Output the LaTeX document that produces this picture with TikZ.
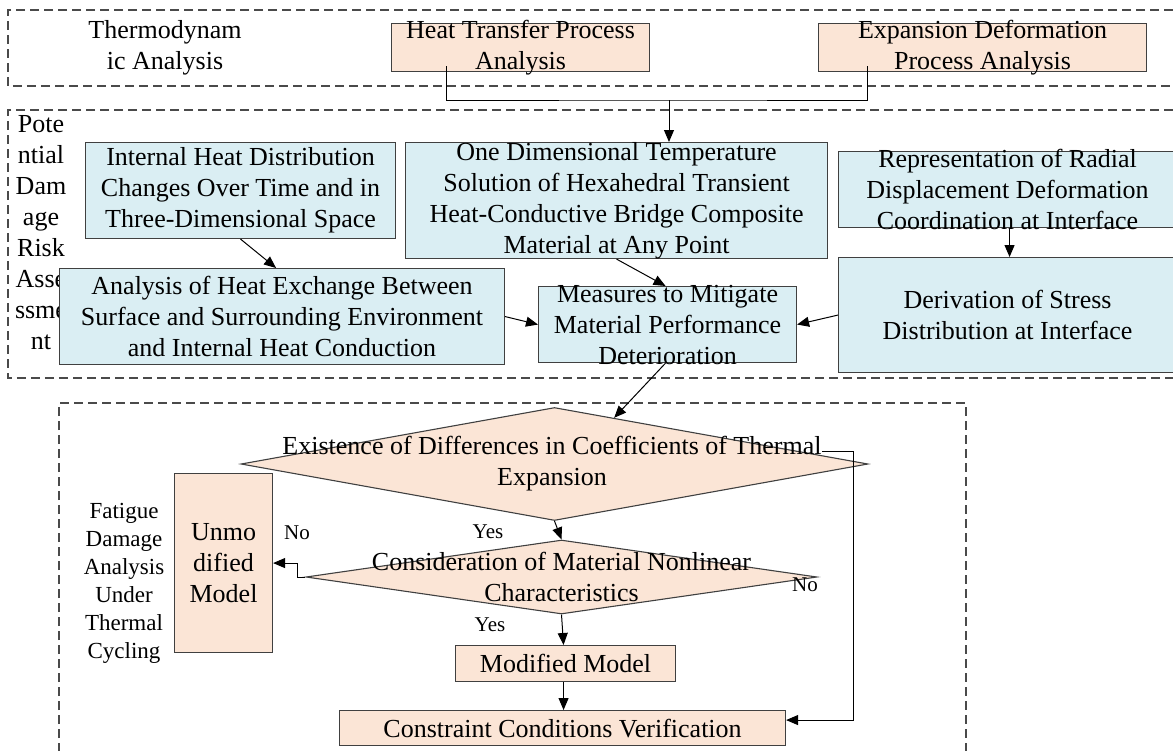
\documentclass[tikz,border=0pt]{standalone}
\usepackage{fontspec}
\setmainfont{Liberation Serif}
\usetikzlibrary{arrows.meta,shapes.geometric,calc}
\definecolor{peach}{HTML}{FBE5D6}
\definecolor{paleblue}{HTML}{DAEEF3}
\definecolor{edgegray}{HTML}{404040}
\definecolor{dashgray}{HTML}{4A4A4A}
\newcommand{\bigfs}{\fontsize{26}{31}\selectfont}
\newcommand{\midfs}{\fontsize{23}{28}\selectfont}
\newcommand{\smallfs}{\fontsize{21}{25}\selectfont}
\begin{document}
\begin{tikzpicture}[x=1pt,y=-1pt,
  pbox/.style={draw=edgegray, fill=peach, line width=1.1pt, inner sep=0pt, anchor=north west},
  bbox/.style={draw=edgegray, fill=paleblue, line width=1.1pt, inner sep=0pt, anchor=north west},
  dbox/.style={diamond, draw=edgegray, fill=peach, line width=1.1pt, inner sep=0pt},
  txt/.style={align=center, font=\bigfs, inner sep=0pt},
  midtxt/.style={align=center, font=\midfs, inner sep=0pt},
  yntxt/.style={font=\smallfs, inner sep=0pt},
  frame/.style={draw=dashgray, line width=1.1pt, dash pattern=on 9pt off 5pt},
  arr/.style={draw=black, line width=1pt, -{Triangle[length=12pt,width=10pt]}},
  plain/.style={draw=black, line width=1pt}]
\useasboundingbox (0,0) rectangle (1173,750);
% dashed frames
\draw[frame] (1173,10) -- (8,10) -- (8,86) -- (1173,86);
\draw[frame] (1173,110) -- (8,110) -- (8,378) -- (1173,378);
\draw[frame] (59,752) -- (59,403) -- (966,403) -- (966,752);

% section 1
\node[txt] (thermo) at (165,47.5) {Thermodynam\\ic Analysis};
\node[pbox, minimum width=258pt, minimum height=48pt] (heat) at (391,23) {};
\node[txt] at (heat.center) {Heat Transfer Process\\Analysis};
\node[pbox, minimum width=328pt, minimum height=48pt] (expa) at (818,23) {};
\node[txt] at (expa.center) {Expansion Deformation\\Process Analysis};

% section 2
\node[txt] (potential) at (41,233) {Pote\\ntial\\Dam\\age\\Risk\\Asse\\ssme\\nt};
\node[bbox, minimum width=310pt, minimum height=96pt] (internal) at (85,142) {};
\node[txt] at (internal.center) {Internal Heat Distribution\\Changes Over Time and in\\Three-Dimensional Space};
\node[bbox, minimum width=422pt, minimum height=116pt] (onedim) at (405,142) {};
\node[txt] at (onedim.center) {One Dimensional Temperature\\Solution of Hexahedral Transient\\Heat-Conductive Bridge Composite\\Material at Any Point};
\node[bbox, minimum width=342pt, minimum height=76pt] (repr) at (838,151) {};
\node[txt] at ([xshift=-2pt]repr.center) {Representation of Radial\\Displacement Deformation\\Coordination at Interface};
\node[bbox, minimum width=342pt, minimum height=115pt] (deriv) at (838,257) {};
\node[txt] at ([xshift=-2pt]deriv.center) {Derivation of Stress\\Distribution at Interface};
\node[bbox, minimum width=445pt, minimum height=96pt] (analysis) at (59,268) {};
\node[txt] at (analysis.center) {Analysis of Heat Exchange Between\\Surface and Surrounding Environment\\and Internal Heat Conduction};
\node[bbox, minimum width=258pt, minimum height=76pt] (meas) at (538,286) {};
\node[txt] at (meas.center) {Measures to Mitigate\\Material Performance\\Deterioration};

% section 3
\node[dbox, minimum width=627pt, minimum height=113pt] (d1) at (554.5,464) {};
\node[txt] at (552,464) {Existence of Differences in Coefficients of Thermal\\Expansion};
\node[dbox, minimum width=511pt, minimum height=74pt] (d2) at (561.5,577) {};
\node[txt] at (561.5,577) {Consideration of Material Nonlinear\\Characteristics};
\node[pbox, minimum width=98pt, minimum height=179pt] (unmod) at (174,473) {};
\node[txt] at (unmod.center) {Unmo\\dified\\Model};
\node[midtxt] (fatigue) at (124,583) {Fatigue\\Damage\\Analysis\\Under\\Thermal\\Cycling};
\node[pbox, minimum width=220pt, minimum height=36pt] (modm) at (455,645) {};
\node[txt] at (modm.center) {Modified Model};
\node[pbox, minimum width=446pt, minimum height=35pt] (cons) at (339,710) {};
\node[txt] at (cons.center) {Constraint Conditions Verification};

\node[yntxt] (yes1) at (488,532) {Yes};
\node[yntxt] (no1) at (297,533) {No};
\node[yntxt] (yes2) at (490,625) {Yes};
\node[yntxt] (no2) at (805,585) {No};

% connectors
\coordinate (h1) at (446,66);
\coordinate (e1) at (867,66);
\coordinate (j) at (669,100);
\draw[plain] (h1) |- (j) -| (e1);
\draw[arr] (j) -- (j |- onedim.north);
\draw[arr] (internal.south) -- ([xshift=-6pt]analysis.north);
\draw[arr] (onedim.south) -- ([xshift=-2pt]meas.north);
\draw[arr] (analysis.east) -- (meas.west);
\draw[arr] (repr.south) -- (deriv.north);
\draw[arr] (deriv.west) -- (meas.east);
\draw[arr] ([xshift=-2pt]meas.south) -- ($(d1.north)!0.19!(d1.east)$);
\draw[arr] (d1.south) -- (d2.north);
\draw[arr] (d2.west) -- ++(-8,0) |- (unmod.east);
\draw[arr] (d2.south) -- ([xshift=-2pt]modm.north);
\draw[arr] ([xshift=-2pt]modm.south) -- ([xshift=1pt]cons.north);
\coordinate (n1) at (822,451);
\draw[arr] (n1) -- (853,451) |- ([yshift=8pt]cons.east);
\end{tikzpicture}
\end{document}
